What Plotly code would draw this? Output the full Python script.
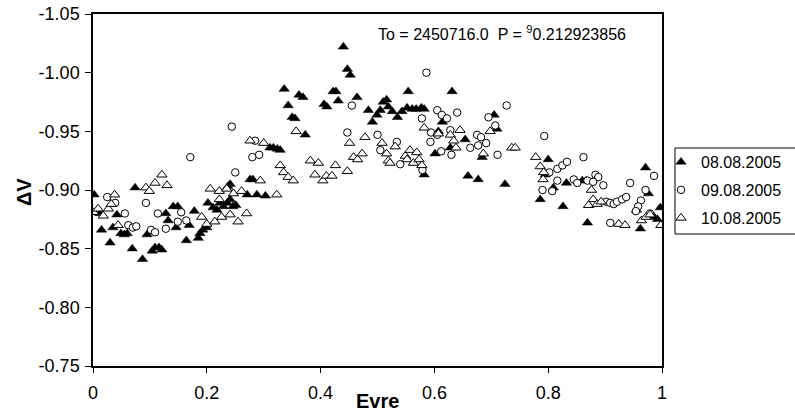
import plotly.graph_objects as go

# ---------------- data ----------------
phase_0808 = [0.002,0.012,0.015,0.030,0.035,0.042,0.049,0.055,0.060,0.069,
              0.074,0.087,0.095,0.104,0.109,0.116,0.121,0.128,0.132,0.141,
              0.149,0.146,0.164,0.169,0.178,0.185,0.188,0.193,0.200,0.202,
              0.211,0.218,0.223,0.229,0.236,0.241,0.246,0.251,0.241,0.237,
              0.276,0.281,0.271,0.288,0.303,0.311,0.317,0.324,0.329,0.336,
              0.343,0.350,0.355,0.362,0.369,0.373,0.406,0.411,0.422,0.427,
              0.431,0.440,0.447,0.452,0.464,0.484,0.491,
              0.499,0.505,0.510,0.516,0.519,0.526,0.535,
              0.543,0.552,0.554,0.561,0.568,0.577,0.582,0.601,0.607,0.614,
              0.582,0.628,0.631,0.654,0.659,0.677,0.684,0.705,0.710,0.724,
              0.786,0.795,0.800,0.809,0.826,0.832,0.860,0.867,0.869,
              0.955,0.962,0.971,0.976,0.986,0.992,0.997]
dv_0808 = [-0.896,-0.880,-0.866,-0.855,-0.868,-0.879,-0.863,-0.862,-0.863,-0.850,
           -0.902,-0.841,-0.862,-0.848,-0.851,-0.851,-0.849,-0.880,-0.874,-0.886,
           -0.886,-0.868,-0.857,-0.870,-0.882,-0.859,-0.863,-0.866,-0.868,-0.889,
           -0.885,-0.883,-0.889,-0.886,-0.889,-0.892,-0.886,-0.887,-0.905,-0.903,
           -0.909,-0.909,-0.896,-0.896,-0.895,-0.936,-0.936,-0.935,-0.934,-0.986,
           -0.972,-0.962,-0.961,-0.981,-0.979,-0.947,-0.973,-0.971,-0.984,-0.984,
           -0.976,-1.022,-1.003,-0.998,-0.979,-0.968,-0.958,
           -0.964,-0.968,-0.975,-0.977,-0.971,-0.967,-0.962,
           -0.967,-0.970,-0.984,-0.969,-0.969,-0.970,-0.969,-0.931,-0.950,-0.958,
           -0.913,-0.936,-0.984,-0.943,-0.912,-0.909,-0.928,-0.964,-0.952,-0.905,
           -0.892,-0.913,-0.926,-0.902,-0.886,-0.906,-0.908,-0.908,-0.872,
           -0.883,-0.867,-0.919,-0.897,-0.877,-0.875,-0.885]

phase_0908 = [0.025,0.039,0.056,0.062,0.070,0.076,0.093,0.102,0.109,0.114,
              0.128,0.149,0.155,0.164,0.171,0.244,0.250,0.280,0.292,0.285,
              0.455,0.447,0.500,0.505,0.534,0.540,0.586,0.578,0.605,0.613,
              0.622,0.640,0.594,0.605,0.593,0.628,0.612,0.630,0.579,0.663,
              0.677,0.675,0.682,0.691,0.695,0.707,0.711,0.727,0.793,0.802,
              0.816,0.825,0.833,0.862,0.790,0.807,0.816,0.845,0.851,0.869,
              0.883,0.888,0.879,0.897,0.902,0.909,0.915,0.921,0.930,0.937,
              0.944,0.909,0.963,0.958,0.954,0.971,0.986,0.979]
dv_0908 = [-0.894,-0.889,-0.880,-0.870,-0.868,-0.869,-0.889,-0.866,-0.864,-0.880,
           -0.867,-0.873,-0.881,-0.874,-0.928,-0.954,-0.915,-0.928,-0.930,-0.942,
           -0.972,-0.949,-0.947,-0.934,-0.941,-0.922,-1.000,-0.961,-0.968,-0.964,
           -0.961,-0.966,-0.949,-0.947,-0.941,-0.951,-0.933,-0.930,-0.917,-0.936,
           -0.938,-0.947,-0.945,-0.940,-0.962,-0.955,-0.930,-0.972,-0.946,-0.915,
           -0.918,-0.921,-0.924,-0.928,-0.900,-0.899,-0.908,-0.909,-0.906,-0.908,
           -0.913,-0.911,-0.907,-0.904,-0.890,-0.889,-0.888,-0.890,-0.892,-0.894,
           -0.906,-0.872,-0.891,-0.886,-0.882,-0.900,-0.912,-0.880]

phase_1008 = [0.001,0.009,0.018,0.027,0.032,0.038,0.044,0.093,0.099,0.109,
              0.121,0.130,0.191,0.200,0.214,0.226,0.241,0.255,0.270,0.206,
              0.222,0.222,0.235,0.247,0.261,0.294,0.323,0.276,0.300,0.329,
              0.335,0.343,0.352,0.357,0.382,0.396,0.390,0.404,0.410,0.420,
              0.426,0.447,0.451,0.458,0.465,0.473,0.478,0.508,0.516,0.519,
              0.522,0.531,0.549,0.552,0.557,0.563,0.569,0.573,0.578,0.582,
              0.607,0.628,0.634,0.645,0.638,0.686,0.698,0.736,0.742,0.778,
              0.786,0.792,0.791,0.876,0.879,0.871,0.886,0.893,0.924,0.935,
              0.964,0.972,0.979,0.998]
dv_1008 = [-0.881,-0.884,-0.878,-0.884,-0.888,-0.896,-0.870,-0.902,-0.899,-0.906,
           -0.913,-0.904,-0.877,-0.871,-0.873,-0.877,-0.879,-0.873,-0.880,-0.901,
           -0.899,-0.892,-0.901,-0.897,-0.899,-0.908,-0.896,-0.942,-0.940,-0.921,
           -0.915,-0.911,-0.908,-0.950,-0.925,-0.923,-0.913,-0.908,-0.912,-0.912,
           -0.921,-0.916,-0.940,-0.928,-0.926,-0.931,-0.945,-0.940,-0.931,-0.925,
           -0.923,-0.937,-0.929,-0.926,-0.934,-0.923,-0.932,-0.926,-0.921,-0.953,
           -0.948,-0.947,-0.942,-0.951,-0.936,-0.931,-0.950,-0.936,-0.936,-0.928,
           -0.920,-0.915,-0.909,-0.900,-0.892,-0.887,-0.888,-0.890,-0.871,-0.870,
           -0.874,-0.877,-0.879,-0.870]

series_names = ["08.08.2005", "09.08.2005", "10.08.2005"]
x_tickvals = [0, 0.2, 0.4, 0.6, 0.8, 1.0]
x_ticktext = ["0", "0.2", "0.4", "0.6", "0.8", "1"]
y_tickvals = [-1.05, -1.00, -0.95, -0.90, -0.85, -0.80, -0.75]
y_ticktext = ["-1.05", "-1.00", "-0.95", "-0.90", "-0.85", "-0.80", "-0.75"]
x_title = "Evre"
y_title = "ΔV"
info_text = "To = 2450716.0 \u00a0P = <sup>9</sup>0.212923856"

FONT = "Liberation Sans, Arial, sans-serif"
W, H = 795, 417

fig = go.Figure()
fig.add_trace(go.Scatter(
    x=phase_0808, y=dv_0808, mode="markers", name=series_names[0], legend="legend",
    marker=dict(symbol="triangle-up", size=9, color="black", line=dict(width=0.5, color="black"))))
fig.add_trace(go.Scatter(
    x=phase_0908, y=dv_0908, mode="markers", name=series_names[1], legend="legend2",
    marker=dict(symbol="circle", size=7.5, color="white", line=dict(width=1, color="black"))))
fig.add_trace(go.Scatter(
    x=phase_1008, y=dv_1008, mode="markers", name=series_names[2], legend="legend3",
    marker=dict(symbol="triangle-up", size=9, color="white", line=dict(width=1, color="black"))))

leg_common = dict(xanchor="left", yanchor="middle", bgcolor="rgba(0,0,0,0)",
                  borderwidth=0, font=dict(family=FONT, size=16, color="black"))
leg_x = 661 / W

fig.update_layout(
    width=W, height=H,
    margin=dict(l=0, r=0, t=0, b=0, autoexpand=False),
    paper_bgcolor="white", plot_bgcolor="white",
    font=dict(family=FONT, color="black"),
    showlegend=True,
    legend=dict(x=leg_x, y=1 - 162 / H, **leg_common),
    legend2=dict(x=leg_x, y=1 - 190 / H, **leg_common),
    legend3=dict(x=leg_x, y=1 - 218 / H, **leg_common),
    xaxis=dict(domain=[93 / W, 662 / W], range=[0, 1],
               tickvals=x_tickvals, ticktext=x_ticktext,
               showgrid=False, zeroline=False, showline=True, linecolor="black",
               linewidth=1.5, mirror=True, ticks="outside", ticklen=5, tickwidth=1,
               tickcolor="black", ticklabelstandoff=5,
               tickfont=dict(family=FONT, size=18, color="black")),
    yaxis=dict(domain=[1 - 366 / H, 1 - 14 / H], range=[-0.75, -1.05],
               tickvals=y_tickvals, ticktext=y_ticktext,
               showgrid=False, zeroline=False, showline=True, linecolor="black",
               linewidth=1.5, mirror=True, ticks="outside", ticklen=6, tickwidth=1,
               tickcolor="black", ticklabelstandoff=2,
               tickfont=dict(family=FONT, size=18, color="black")),
    shapes=[dict(type="rect", xref="paper", yref="paper",
                 x0=675 / W, x1=1.01, y0=1 - 234 / H, y1=1 - 148 / H,
                 line=dict(color="black", width=1), fillcolor="rgba(0,0,0,0)")],
    annotations=[
        dict(text=info_text, xref="paper", yref="paper", x=376 / W, y=1 - 33 / H,
             xanchor="left", yanchor="middle", showarrow=False,
             font=dict(family=FONT, size=16, color="black")),
        dict(text="<b>" + x_title + "</b>", xref="paper", yref="paper", x=377 / W, y=1 - 401 / H,
             xanchor="center", yanchor="middle", showarrow=False,
             font=dict(family=FONT, size=20, color="black")),
        dict(text="<b>" + y_title + "</b>", xref="paper", yref="paper", x=24 / W, y=1 - 192 / H,
             xanchor="center", yanchor="middle", showarrow=False, textangle=-90,
             font=dict(family=FONT, size=20, color="black")),
    ],
)

fig.write_html("out.html", config={"displayModeBar": False},
               post_script="document.body.style.margin='0px';document.body.style.overflow='hidden';")
